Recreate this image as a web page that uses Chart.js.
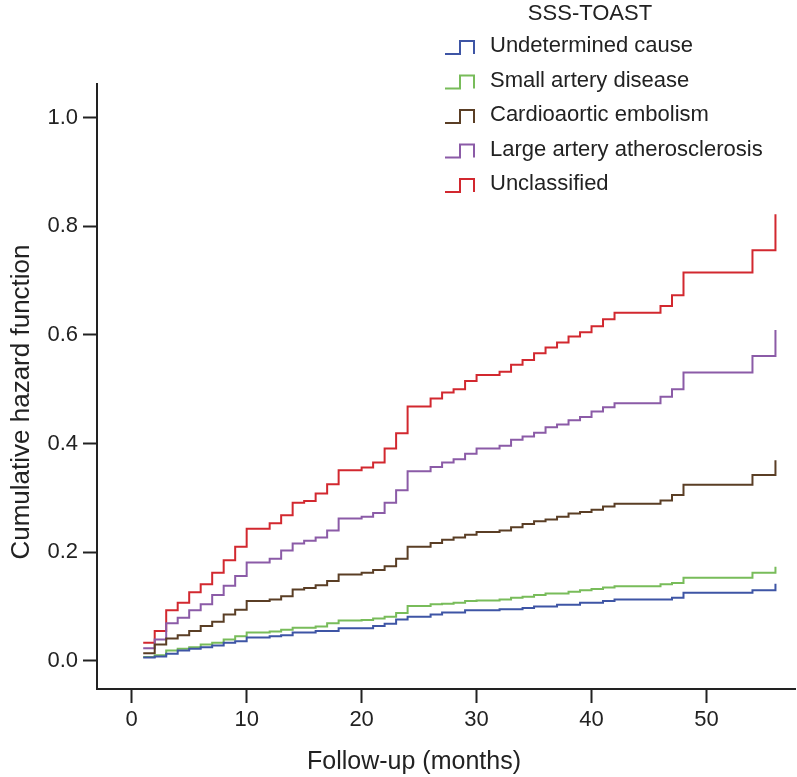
<!DOCTYPE html>
<html>
<head>
<meta charset="utf-8">
<script src="https://cdn.jsdelivr.net/npm/chart.js@4"></script>
<style>
  html, body { margin: 0; padding: 0; background: #fff; }
  #wrap { width: 797px; height: 777px; }
</style>
</head>
<body>
<div id="wrap"><canvas id="chart" width="797" height="777"></canvas></div>
<script>
// Follow-up months where the curves step
const months = [1,2,3,4,5,6,7,8,9,10,11,12,13,14,15,16,17,18,19,20,21,22,23,24,25,26,27,28,29,30,31,32,33,34,35,36,37,38,39,40,41,42,46,47,48,54,56];

// Cumulative hazard per group
const undetermined = [0.006,0.008,0.013,0.019,0.022,0.025,0.028,0.033,0.036,0.043,0.043,0.045,0.047,0.052,0.052,0.055,0.055,0.060,0.060,0.060,0.064,0.068,0.076,0.081,0.081,0.085,0.089,0.089,0.093,0.093,0.093,0.095,0.095,0.097,0.100,0.100,0.103,0.103,0.107,0.107,0.110,0.113,0.113,0.116,0.125,0.130,0.142];
const smallArtery = [0.007,0.010,0.019,0.022,0.025,0.030,0.033,0.039,0.045,0.052,0.052,0.054,0.057,0.061,0.061,0.063,0.069,0.074,0.074,0.075,0.078,0.081,0.088,0.101,0.101,0.104,0.105,0.107,0.110,0.111,0.111,0.113,0.116,0.118,0.121,0.124,0.124,0.127,0.130,0.132,0.135,0.137,0.141,0.143,0.153,0.162,0.173];
const cardioaortic = [0.014,0.030,0.041,0.047,0.055,0.064,0.072,0.085,0.094,0.110,0.110,0.113,0.119,0.131,0.134,0.139,0.147,0.159,0.159,0.162,0.167,0.174,0.188,0.210,0.210,0.217,0.223,0.227,0.232,0.237,0.237,0.240,0.246,0.252,0.257,0.260,0.265,0.271,0.274,0.278,0.284,0.289,0.295,0.305,0.324,0.342,0.369];
const largeArtery = [0.023,0.039,0.069,0.079,0.093,0.104,0.121,0.138,0.156,0.181,0.181,0.188,0.203,0.216,0.221,0.227,0.240,0.262,0.262,0.265,0.272,0.291,0.314,0.349,0.349,0.357,0.365,0.371,0.381,0.391,0.391,0.396,0.407,0.413,0.420,0.430,0.435,0.443,0.449,0.459,0.467,0.474,0.486,0.500,0.531,0.561,0.609];
const unclassified = [0.033,0.055,0.093,0.107,0.126,0.141,0.162,0.185,0.210,0.243,0.243,0.253,0.268,0.291,0.294,0.308,0.325,0.351,0.351,0.356,0.365,0.391,0.419,0.468,0.468,0.483,0.494,0.500,0.515,0.526,0.526,0.532,0.545,0.554,0.566,0.577,0.586,0.597,0.605,0.616,0.629,0.641,0.653,0.673,0.715,0.756,0.822];

const groupNames = ["Undetermined cause", "Small artery disease", "Cardioaortic embolism", "Large artery atherosclerosis", "Unclassified"];
const groupValues = [undetermined, smallArtery, cardioaortic, largeArtery, unclassified];
const groupColors = ["#3e55a5", "#78bc5a", "#5a3e25", "#8b5ba7", "#d2282f"];

const xTicks = [0, 10, 20, 30, 40, 50];
const yTicks = [0, 0.2, 0.4, 0.6, 0.8, 1.0];

const FONT = "'Liberation Sans', Arial, sans-serif";

const datasets = groupValues.map((vals, i) => ({
  label: groupNames[i],
  data: months.map((m, j) => ({ x: m, y: vals[j] })),
  borderColor: groupColors[i],
  borderWidth: 2,
  stepped: "before",
  pointRadius: 0,
  fill: false,
}));

// legend + axis titles drawn onto the canvas
const extras = {
  id: "extras",
  afterDraw(chart) {
    const ctx = chart.ctx;
    ctx.save();
    ctx.fillStyle = "#222";
    ctx.textBaseline = "middle";

    // legend title
    ctx.font = "22px " + FONT;
    ctx.textAlign = "center";
    ctx.fillText("SSS-TOAST", 590, 14);

    // legend rows
    ctx.textAlign = "left";
    groupNames.forEach((name, i) => {
      const cy = 46 + i * 34.5;
      ctx.strokeStyle = groupColors[i];
      ctx.lineWidth = 2;
      ctx.beginPath();
      ctx.moveTo(445, cy + 8);
      ctx.lineTo(460, cy + 8);
      ctx.lineTo(460, cy - 5);
      ctx.lineTo(474, cy - 5);
      ctx.lineTo(474, cy + 8);
      ctx.stroke();
      ctx.fillStyle = "#222";
      ctx.fillText(name, 490, cy);
    });

    // axis titles
    ctx.font = "25px " + FONT;
    ctx.textAlign = "center";
    ctx.fillText("Follow-up (months)", 414, 762);
    ctx.font = "26px " + FONT;
    ctx.translate(22, 402);
    ctx.rotate(-Math.PI / 2);
    ctx.fillText("Cumulative hazard function", 0, 0);
    ctx.restore();
  }
};

new Chart(document.getElementById("chart"), {
  type: "line",
  data: { datasets },
  plugins: [extras],
  options: {
    responsive: false,
    animation: false,
    events: [],
    layout: { padding: { top: 84, right: 2, left: 0, bottom: 0 } },
    plugins: { legend: { display: false }, tooltip: { enabled: false } },
    scales: {
      x: {
        type: "linear",
        min: -3.02,
        max: 57.7,
        afterBuildTicks: (s) => { s.ticks = xTicks.map(v => ({ value: v })); },
        afterFit: (s) => { s.height = 88; },
        border: { display: true, color: "#222", width: 2 },
        grid: { display: true, drawOnChartArea: false, drawTicks: true, tickLength: 14, tickWidth: 2, tickColor: "#222" },
        ticks: { color: "#222", font: { family: FONT, size: 22 }, padding: 4, maxRotation: 0 },
      },
      y: {
        type: "linear",
        min: -0.052,
        max: 1.062,
        afterBuildTicks: (s) => { s.ticks = yTicks.map(v => ({ value: v })); },
        afterFit: (s) => { s.width = 97; },
        border: { display: true, color: "#222", width: 2 },
        grid: { display: true, drawOnChartArea: false, drawTicks: true, tickLength: 14, tickWidth: 2, tickColor: "#222" },
        ticks: { color: "#222", font: { family: FONT, size: 22 }, padding: 5, callback: (v) => v.toFixed(1) },
      },
    },
  },
});
</script>
</body>
</html>
